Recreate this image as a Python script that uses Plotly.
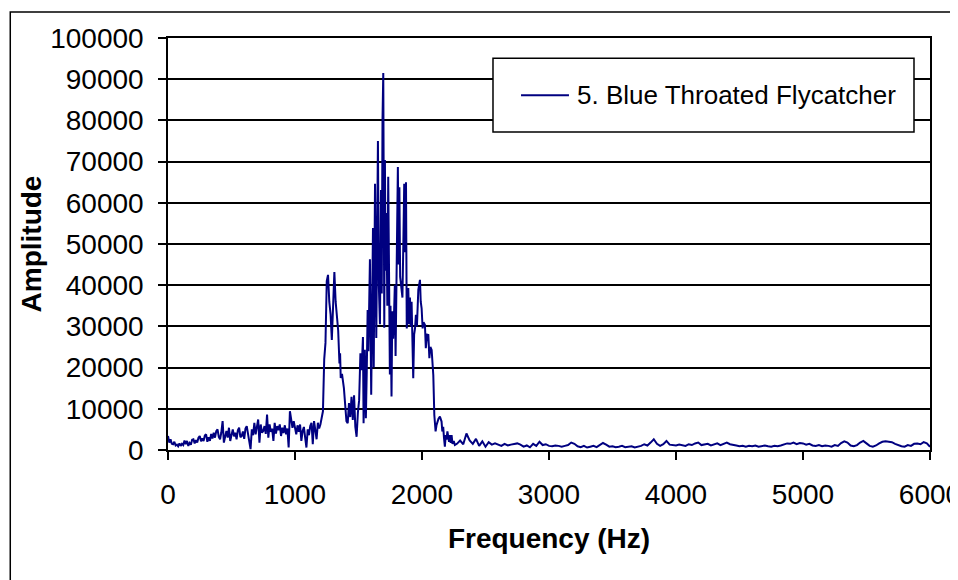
import plotly.graph_objects as go

# low band, 10 Hz bins from 0 Hz
amp_low = [
    3400, 1800, 2600, 1500, 1400, 2000, 1100, 1300, 900, 1600,
    1000, 1500, 1200, 2300, 1400, 2200, 1000, 1700, 1300, 2500,
    2600, 1600, 2400, 1800, 3000, 3400, 2100, 2800, 2200, 3500,
    3800, 2000, 3100, 2200, 3900, 2800, 4200, 3000, 4600, 5000,
    3200, 2600, 4300, 7000, 1800, 3500, 4600, 3000, 5400, 2200,
    4100, 5000, 3300, 4200, 2600, 4800, 5400, 3100, 3400, 4500,
    2700, 5200, 5800, 3600, 1500, 200, 5000, 3600, 6600, 3800,
    5600, 7400, 1800, 6200, 4200, 4600, 5800, 3900, 8600, 3000,
    6200, 4400, 5200, 2200, 6600, 4000, 5800, 4800, 6200, 3400,
    5400, 4100, 6000, 3800, 5200, 600, 9400, 7800, 5400, 7000,
    5200, 3800, 6000, 4400, 6200, 2200, 4600, 5600, 3000, 600,
    5000, 3600, 5800, 6600, 1400, 7000, 4800, 2600, 6600, 5200,
    6200, 7800,
]
freq_low = [10 * i for i in range(len(amp_low))]

# song band, irregular points
freq_mid = [
    1220, 1230, 1240, 1250, 1260, 1270, 1280, 1290, 1300, 1310,
    1320, 1330, 1340, 1350, 1355, 1360, 1370, 1385, 1395, 1405,
    1415, 1425, 1435, 1445, 1455, 1465, 1475, 1485, 1495, 1505,
    1515, 1525, 1535, 1540, 1550, 1558, 1565, 1572, 1578, 1590,
    1600, 1608, 1614, 1620, 1630, 1640, 1648, 1653, 1660, 1669,
    1677, 1683, 1689, 1695, 1703, 1708, 1713, 1720, 1727, 1734,
    1740, 1747, 1752, 1760, 1766, 1773, 1779, 1786, 1792, 1798,
    1803, 1810, 1816, 1822, 1828, 1834, 1846, 1853, 1860, 1866,
    1874, 1880, 1886, 1892, 1899, 1905, 1912, 1918, 1925, 1931,
    1938, 1945, 1952, 1960, 1971, 1984, 1990, 1997, 2005, 2012,
    2023, 2030, 2040, 2050, 2058, 2066, 2076, 2085, 2089, 2097,
    2107, 2114, 2120, 2130, 2141, 2148, 2154, 2160, 2167, 2173,
    2180, 2187, 2193, 2200, 2206, 2213, 2220, 2226, 2233, 2240,
    2250, 2259,
]
amp_mid = [
    9400, 22000, 26000, 41000, 42500, 36000, 33000, 26700, 38000, 43200,
    36000, 31500, 29000, 21000, 23500, 17500, 18500, 15000, 9700, 7000,
    6500, 11400, 8000, 12900, 7300, 13300, 5600, 3200, 9000, 12100,
    23500, 19400, 27400, 6500, 24300, 7700, 19100, 34000, 24000, 46300,
    13400, 44000, 53900, 20000, 64600, 27200, 64800, 75000, 40000, 30500,
    63100, 38000, 80000, 91500, 29700, 70400, 43500, 57500, 35000, 66300,
    45000, 18300, 35000, 13000, 33700, 27000, 32100, 40000, 22800, 41000,
    50000, 68700, 45000, 63800, 42000, 40200, 37000, 50000, 64600, 48000,
    65000, 29500, 32100, 39300, 30500, 37000, 30000, 36000, 25000, 17400,
    28000, 29500, 32800, 30000, 38900, 41300, 36000, 34400, 29500, 31000,
    30400, 24700, 28000, 27900, 22300, 25000, 24300, 19000, 18200, 8500,
    4500, 6000, 6900, 7600, 8100, 7300, 6900, 4500, 5600, 3000,
    800, 3600, 2500, 4500, 3000, 2000, 3600, 1700, 3600, 1500,
    2200, 1200,
]

# high band, 25 Hz bins from 2275 Hz
amp_high = [
    1500, 2300, 1400, 4000, 2300, 1500, 2700, 1000, 2100, 800,
    1900, 1300, 1600, 1200, 1000, 1500, 1100, 1300, 1500, 1600,
    1300, 800, 1100, 650, 1500, 1000, 2000, 1200, 1400, 1000,
    900, 1100, 1000, 800, 1000, 1200, 1800, 1500, 900, 700,
    1000, 600, 800, 1000, 700, 1200, 1700, 1300, 800, 900,
    700, 800, 1000, 700, 800, 900, 600, 800, 1000, 1400,
    1100, 1800, 2600, 1500, 1000, 1400, 2200, 1300, 1200, 1100,
    1300, 1200, 1000, 1400, 1200, 1600, 1800, 1200, 1400, 1500,
    1100, 1300, 1600, 1200, 1500, 1800, 1400, 1300, 1100, 900,
    1000, 800, 1000, 900, 1100, 800, 900, 1100, 900, 800,
    1000, 900, 1100, 1300, 1600, 1500, 1800, 1400, 1700, 1600,
    1300, 1500, 1100, 1000, 1200, 900, 1100, 1000, 800, 1200,
    1000, 1700, 2100, 1800, 1100, 900, 1200, 1800, 2200, 1600,
    1000, 800, 1100, 1600, 2000, 2100, 2000, 1900, 1500, 1100,
    900, 800, 1200, 1000, 1500, 1600, 1400, 1900, 1600, 800,
]
freq_high = [2275 + 25 * i for i in range(len(amp_high))]

freq = freq_low + freq_mid + freq_high
amp = amp_low + amp_mid + amp_high

series_name = "5. Blue Throated Flycatcher"
FONT = "Arial, Liberation Sans, sans-serif"
NAVY = "#000080"

fig = go.Figure()
fig.add_trace(go.Scatter(
    x=freq, y=amp, mode="lines",
    name=series_name, showlegend=False,
    line=dict(color=NAVY, width=2),
))

# legend box drawn by hand so the sample line and frame match the Excel look
fig.add_shape(type="rect", xref="paper", yref="paper",
              x0=0.4265, x1=0.979, y0=0.772, y1=0.951,
              fillcolor="white", line=dict(color="black", width=1.5), layer="above")
fig.add_shape(type="line", xref="paper", yref="paper",
              x0=0.4633, x1=0.5262, y0=0.861, y1=0.861,
              line=dict(color=NAVY, width=1.8), layer="above")
fig.add_annotation(text=series_name, xref="paper", yref="paper",
                   x=0.534, y=0.861, xanchor="left", yanchor="middle",
                   showarrow=False, font=dict(size=26))
# outer chart frame
fig.add_shape(type="rect", xref="paper", yref="paper",
              x0=-0.207, x1=1.2, y0=-0.4, y1=1.063,
              line=dict(color="black", width=1.5), layer="below")

fig.update_layout(
    width=958, height=580,
    margin=dict(l=160, r=36, t=30, b=138, autoexpand=False),
    plot_bgcolor="white", paper_bgcolor="white",
    font=dict(family=FONT, size=28, color="black"),
    xaxis=dict(
        range=[0, 6000], dtick=1000, tick0=0, automargin=False,
        showgrid=False, zeroline=False,
        showline=True, linecolor="black", linewidth=1.5, mirror=True,
        ticks="outside", ticklen=8, tickcolor="black", tickwidth=1.5,
        ticklabelstandoff=11,
        title=dict(text="<b>Frequency (Hz)</b>", font=dict(size=28), standoff=19),
    ),
    yaxis=dict(
        range=[0, 100000], dtick=10000, tick0=0, tickformat="d", automargin=False,
        showgrid=True, gridcolor="black", gridwidth=1.5,
        zeroline=False,
        showline=True, linecolor="black", linewidth=1.5, mirror=True,
        ticks="outside", ticklen=8, tickcolor="black", tickwidth=1.5,
        ticklabelstandoff=9,
        title=dict(text="<b>Amplitude</b>", font=dict(size=28), standoff=0),
    ),
)

fig.write_html("out.html")
